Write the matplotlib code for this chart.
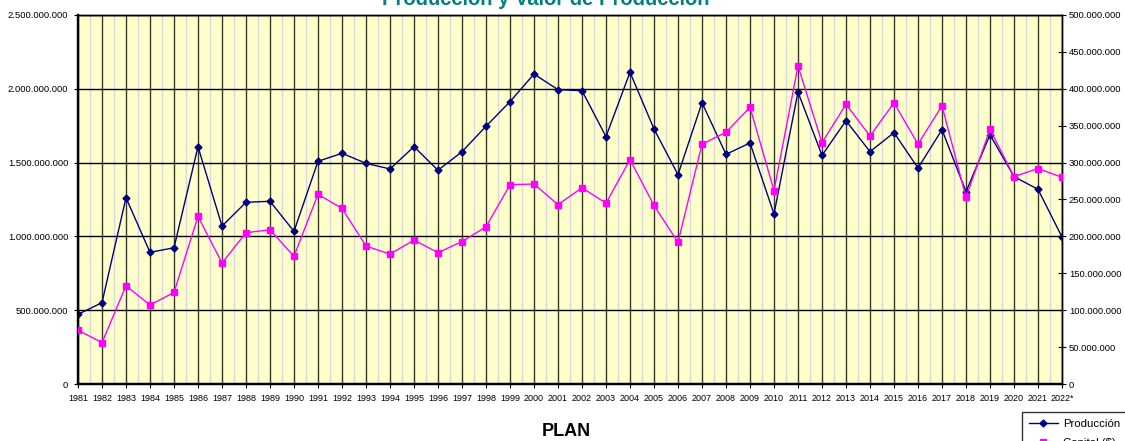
import matplotlib.pyplot as plt
import numpy as np

plt.rcParams['font.family'] = ['Liberation Sans', 'DejaVu Sans']

# data
years = [str(y) for y in range(1981, 2022)] + ['2022*']
produccion = [472e6, 551e6, 1262e6, 892e6, 923e6, 1608e6, 1070e6, 1231e6, 1238e6, 1034e6,
              1509e6, 1563e6, 1495e6, 1457e6, 1608e6, 1448e6, 1574e6, 1746e6, 1913e6, 2100e6,
              1994e6, 1987e6, 1676e6, 2112e6, 1728e6, 1418e6, 1906e6, 1556e6, 1633e6, 1152e6,
              1978e6, 1549e6, 1784e6, 1574e6, 1703e6, 1463e6, 1723e6, 1303e6, 1689e6, 1405e6,
              1319e6, 996e6]
capital = [73e6, 56e6, 133e6, 107e6, 124e6, 227e6, 164e6, 205e6, 209e6, 173e6,
           257e6, 238e6, 187e6, 176e6, 195e6, 178e6, 193e6, 213e6, 270e6, 271e6,
           243e6, 266e6, 245e6, 304e6, 242e6, 192e6, 325e6, 341e6, 375e6, 262e6,
           431e6, 327e6, 379e6, 336e6, 381e6, 325e6, 377e6, 253e6, 345e6, 281e6,
           292e6, 280e6]

def dots(v, pos=None):
    return f'{int(v):,}'.replace(',', '.')

x = np.arange(len(years))

fig = plt.figure(figsize=(11.25, 4.41), dpi=100)
ax = fig.add_axes([78/1125, 1 - 384/441, 984/1125, 369/441])
ax.set_facecolor('#ffffcc')

# grid
ax.set_xticks(x)
ax.set_xticks(x[:-1] + 0.5, minor=True)
ax.grid(axis='x', which='major', color='#3a3a2a', lw=1.0, zorder=0)
ax.grid(axis='x', which='minor', color='#d8d8dc', lw=1.0, zorder=0)
ax.grid(axis='y', which='major', color='black', lw=1.0, zorder=0)
ax.tick_params(axis='x', which='minor', length=0)

l1, = ax.plot(x, produccion, color='#000080', lw=1.0, marker='D', ms=3.5, zorder=3, label='Producción')
ax.set_xlim(0, len(years) - 1)
ax.set_ylim(0, 2.5e9)
ax.set_yticks(np.arange(0, 2.5e9 + 1, 5e8))
ax.yaxis.set_major_formatter(plt.FuncFormatter(dots))
ax.set_xticklabels(years)
ax.tick_params(axis='x', labelsize=6.5, length=3, pad=4)
ax.tick_params(axis='y', labelsize=6.8, length=3, pad=4)

ax2 = ax.twinx()
l2, = ax2.plot(x, capital, color='#ff00ff', lw=1.0, marker='s', ms=5, zorder=3, label='Capital ($)')
ax2.set_ylim(0, 5e8)
ax2.set_yticks(np.arange(0, 5e8 + 1, 5e7))
ax2.yaxis.set_major_formatter(plt.FuncFormatter(dots))
ax2.tick_params(axis='y', labelsize=6.8, direction='inout', length=6, pad=2)

for a in (ax, ax2):
    for s in a.spines.values():
        s.set_color('black')
        s.set_linewidth(1.0)
    a.spines['left'].set_linewidth(1.6)
    a.spines['bottom'].set_linewidth(1.6)

fig.text(546/1125, 1 - 5/441, 'Producción y Valor de Producción', color='#008080',
         fontsize=14.5, fontweight='bold', ha='center', va='baseline')
fig.text(566/1125, 1 - 436/441, 'PLAN', fontsize=13, fontweight='bold', ha='center', va='baseline')

fig.legend(handles=[l1, l2], loc='upper left', bbox_to_anchor=(1016/1125, 1 - 406/441),
           fontsize=8.2, frameon=True, fancybox=False, edgecolor='black',
           handlelength=2.6, borderpad=0.6, labelspacing=0.8, handletextpad=0.4)

fig.savefig('out.png', dpi=100)
